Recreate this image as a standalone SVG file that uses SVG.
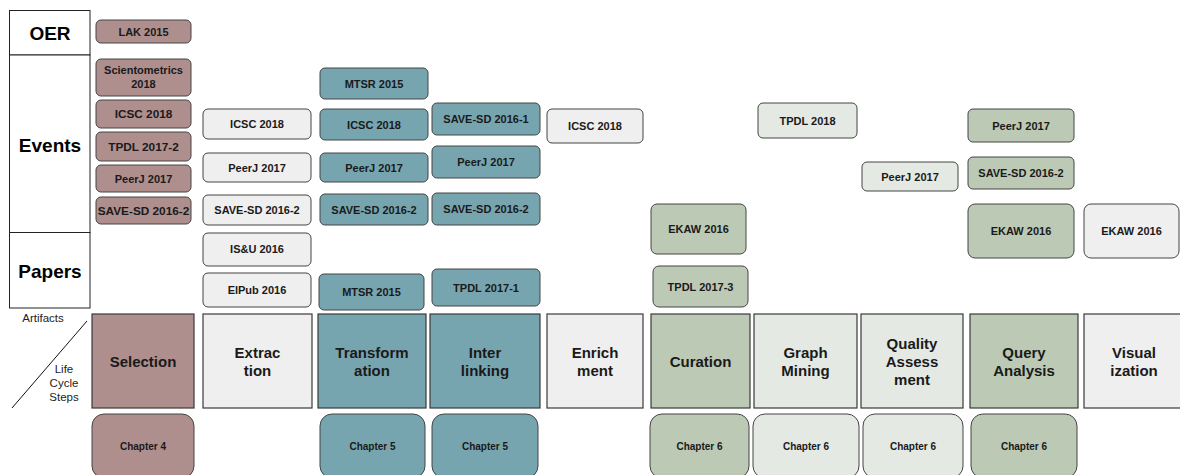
<svg xmlns="http://www.w3.org/2000/svg" width="1180" height="475" viewBox="0 0 1180 475">
  <style>
    text { font-family: "Liberation Sans", Arial, sans-serif; fill: #1a1a1a; text-anchor: middle; }
    .hdr { font-size: 19px; font-weight: bold; fill: #000; }
    .ev { font-size: 11px; font-weight: bold; }
    .ev12 { font-size: 11.8px; font-weight: bold; }
    .step { font-size: 15px; font-weight: bold; }
    .ch { font-size: 10px; font-weight: bold; }
    .note { font-size: 11.5px; fill: #222; }
    .box { stroke: #444; stroke-width: 1; }
    .stepbox { stroke: #3a3a3a; stroke-width: 1.2; }
    .mauve { fill: #ae8f8e; }
    .teal { fill: #77a5af; }
    .green { fill: #bbc9b5; }
    .grey { fill: #efefef; }
    .pale { fill: #e4e9e3; }
    .frame { fill: #fff; stroke: #222; stroke-width: 1; }
  </style>

  <!-- artifact category headers -->
  <g id="hdr-oer"><rect class="frame" x="9.5" y="10.5" width="80.5" height="44.5"/><text class="hdr" x="50" y="40">OER</text></g>
  <g id="hdr-events"><rect class="frame" x="9.5" y="55" width="80.5" height="177.5"/><text class="hdr" x="50" y="152">Events</text></g>
  <g id="hdr-papers"><rect class="frame" x="9.5" y="232.5" width="80.5" height="75.5"/><text class="hdr" x="50" y="278">Papers</text></g>

  <!-- corner legend -->
  <g id="legend">
    <text class="note" x="43" y="322">Artifacts</text>
    <text class="note" x="64" y="373">Life</text>
    <text class="note" x="64" y="387">Cycle</text>
    <text class="note" x="64" y="401">Steps</text>
  </g>
  <g id="connectors">
    <line x1="87" y1="321" x2="12" y2="408" stroke="#111" stroke-width="1"/>
  </g>

  <!-- Selection column -->
  <g id="sel-lak2015"><rect class="box mauve" x="96" y="20" width="95" height="23" rx="5"/><text class="ev" x="143.5" y="35.5">LAK 2015</text></g>
  <g id="sel-sciento2018"><rect class="box mauve" x="96" y="59" width="95" height="37" rx="5"/><text class="ev" x="143.5" y="74">Scientometrics</text><text class="ev" x="143.5" y="87.5">2018</text></g>
  <g id="sel-icsc2018"><rect class="box mauve" x="96" y="100" width="95" height="28" rx="5"/><text class="ev12" x="143.5" y="118">ICSC 2018</text></g>
  <g id="sel-tpdl2017-2"><rect class="box mauve" x="96" y="132" width="95" height="29" rx="5"/><text class="ev12" x="143.5" y="150.5">TPDL 2017-2</text></g>
  <g id="sel-peerj2017"><rect class="box mauve" x="96" y="165" width="95" height="27" rx="5"/><text class="ev" x="143.5" y="182.5">PeerJ 2017</text></g>
  <g id="sel-savesd2016-2"><rect class="box mauve" x="96" y="197" width="95" height="27" rx="5"/><text class="ev12" x="143.5" y="214.5">SAVE-SD 2016-2</text></g>

  <!-- Extraction column -->
  <g id="ext-icsc2018"><rect class="box grey" x="203" y="109" width="108" height="30" rx="5"/><text class="ev" x="257" y="128">ICSC 2018</text></g>
  <g id="ext-peerj2017"><rect class="box grey" x="203" y="153" width="108" height="29" rx="5"/><text class="ev" x="257" y="171.5">PeerJ 2017</text></g>
  <g id="ext-savesd2016-2"><rect class="box grey" x="203" y="195" width="108" height="30" rx="5"/><text class="ev" x="257" y="214">SAVE-SD 2016-2</text></g>
  <g id="ext-isu2016"><rect class="box grey" x="203" y="233" width="108" height="33" rx="5"/><text class="ev" x="257" y="253">IS&amp;U 2016</text></g>
  <g id="ext-elpub2016"><rect class="box grey" x="203" y="273" width="108" height="34" rx="5"/><text class="ev" x="257" y="294">ElPub 2016</text></g>

  <!-- Transformation column -->
  <g id="tra-mtsr2015"><rect class="box teal" x="320" y="68" width="108" height="31" rx="5"/><text class="ev" x="374" y="87.5">MTSR 2015</text></g>
  <g id="tra-icsc2018"><rect class="box teal" x="320" y="109" width="108" height="31" rx="5"/><text class="ev" x="374" y="128.5">ICSC 2018</text></g>
  <g id="tra-peerj2017"><rect class="box teal" x="320" y="153" width="108" height="29" rx="5"/><text class="ev" x="374" y="171.5">PeerJ 2017</text></g>
  <g id="tra-savesd2016-2"><rect class="box teal" x="320" y="194" width="108" height="31" rx="5"/><text class="ev" x="374" y="213.5">SAVE-SD 2016-2</text></g>
  <g id="tra-mtsr2015-paper"><rect class="box teal" x="319" y="274" width="105" height="36" rx="5"/><text class="ev" x="371.5" y="296">MTSR 2015</text></g>

  <!-- Interlinking column -->
  <g id="int-savesd2016-1"><rect class="box teal" x="432" y="103" width="108" height="32" rx="5"/><text class="ev" x="486" y="122.5">SAVE-SD 2016-1</text></g>
  <g id="int-peerj2017"><rect class="box teal" x="432" y="146" width="108" height="32" rx="5"/><text class="ev" x="486" y="165.5">PeerJ 2017</text></g>
  <g id="int-savesd2016-2"><rect class="box teal" x="432" y="193" width="108" height="32" rx="5"/><text class="ev" x="486" y="212.5">SAVE-SD 2016-2</text></g>
  <g id="int-tpdl2017-1"><rect class="box teal" x="432" y="269" width="108" height="37" rx="5"/><text class="ev" x="486" y="291.5">TPDL 2017-1</text></g>

  <!-- Enrichment column -->
  <g id="enr-icsc2018"><rect class="box grey" x="547" y="109" width="96" height="34" rx="5"/><text class="ev" x="595" y="130">ICSC 2018</text></g>

  <!-- Curation column -->
  <g id="cur-ekaw2016"><rect class="box green" x="651" y="204" width="95" height="50" rx="6"/><text class="ev" x="698.5" y="233">EKAW 2016</text></g>
  <g id="cur-tpdl2017-3"><rect class="box green" x="653" y="266" width="95" height="41" rx="6"/><text class="ev" x="700.5" y="290.5">TPDL 2017-3</text></g>

  <!-- Graph Mining column -->
  <g id="gm-tpdl2018"><rect class="box pale" x="758" y="103" width="99" height="35" rx="5"/><text class="ev" x="807.5" y="125">TPDL 2018</text></g>

  <!-- Quality Assessment column -->
  <g id="qa-peerj2017"><rect class="box pale" x="862" y="162" width="96" height="29" rx="5"/><text class="ev" x="910" y="181">PeerJ 2017</text></g>

  <!-- Query Analysis column -->
  <g id="qry-peerj2017"><rect class="box green" x="968" y="109" width="106" height="33" rx="5"/><text class="ev" x="1021" y="130">PeerJ 2017</text></g>
  <g id="qry-savesd2016-2"><rect class="box green" x="968" y="157" width="106" height="32" rx="5"/><text class="ev" x="1021" y="177">SAVE-SD 2016-2</text></g>
  <g id="qry-ekaw2016"><rect class="box green" x="968" y="204" width="106" height="54" rx="7"/><text class="ev" x="1021" y="235">EKAW 2016</text></g>

  <!-- Visualization column -->
  <g id="vis-ekaw2016"><rect class="box grey" x="1084" y="204" width="95" height="54" rx="7"/><text class="ev" x="1131.5" y="235">EKAW 2016</text></g>

  <!-- life cycle steps -->
  <g id="step-selection"><rect class="stepbox mauve" x="92" y="314" width="102" height="94"/><text class="step" x="143" y="367">Selection</text></g>
  <g id="step-extraction"><rect class="stepbox grey" x="203" y="314" width="109" height="94"/><text class="step" x="257.5" y="358">Extrac</text><text class="step" x="257.5" y="376">tion</text></g>
  <g id="step-transformation"><rect class="stepbox teal" x="318" y="314" width="108" height="94"/><text class="step" x="372" y="358">Transform</text><text class="step" x="372" y="376">ation</text></g>
  <g id="step-interlinking"><rect class="stepbox teal" x="430" y="314" width="110" height="94"/><text class="step" x="485" y="358">Inter</text><text class="step" x="485" y="376">linking</text></g>
  <g id="step-enrichment"><rect class="stepbox grey" x="547" y="314" width="96" height="94"/><text class="step" x="595" y="358">Enrich</text><text class="step" x="595" y="376">ment</text></g>
  <g id="step-curation"><rect class="stepbox green" x="651" y="314" width="99" height="94"/><text class="step" x="700.5" y="367">Curation</text></g>
  <g id="step-graphmining"><rect class="stepbox pale" x="754" y="314" width="103" height="94"/><text class="step" x="805.5" y="358">Graph</text><text class="step" x="805.5" y="376">Mining</text></g>
  <g id="step-quality"><rect class="stepbox pale" x="861" y="314" width="102" height="94"/><text class="step" x="912" y="349">Quality</text><text class="step" x="912" y="367">Assess</text><text class="step" x="912" y="385">ment</text></g>
  <g id="step-query"><rect class="stepbox green" x="970" y="314" width="108" height="94"/><text class="step" x="1024" y="358">Query</text><text class="step" x="1024" y="376">Analysis</text></g>
  <g id="step-visualization"><rect class="stepbox grey" x="1084" y="314" width="100" height="94"/><text class="step" x="1134" y="358">Visual</text><text class="step" x="1134" y="376">ization</text></g>

  <!-- thesis chapters -->
  <g id="ch4"><rect class="box mauve" x="92" y="414" width="102" height="64" rx="12"/><text class="ch" x="143" y="450">Chapter 4</text></g>
  <g id="ch5-transformation"><rect class="box teal" x="320" y="414" width="105" height="64" rx="12"/><text class="ch" x="372.5" y="450">Chapter 5</text></g>
  <g id="ch5-interlinking"><rect class="box teal" x="432" y="414" width="106" height="64" rx="12"/><text class="ch" x="485" y="450">Chapter 5</text></g>
  <g id="ch6-curation"><rect class="box green" x="650" y="414" width="99" height="64" rx="12"/><text class="ch" x="699.5" y="450">Chapter 6</text></g>
  <g id="ch6-graphmining"><rect class="box pale" x="753" y="414" width="106" height="64" rx="12"/><text class="ch" x="806" y="450">Chapter 6</text></g>
  <g id="ch6-quality"><rect class="box pale" x="863" y="414" width="100" height="64" rx="12"/><text class="ch" x="913" y="450">Chapter 6</text></g>
  <g id="ch6-query"><rect class="box green" x="971" y="414" width="106" height="64" rx="12"/><text class="ch" x="1024" y="450">Chapter 6</text></g>
</svg>
